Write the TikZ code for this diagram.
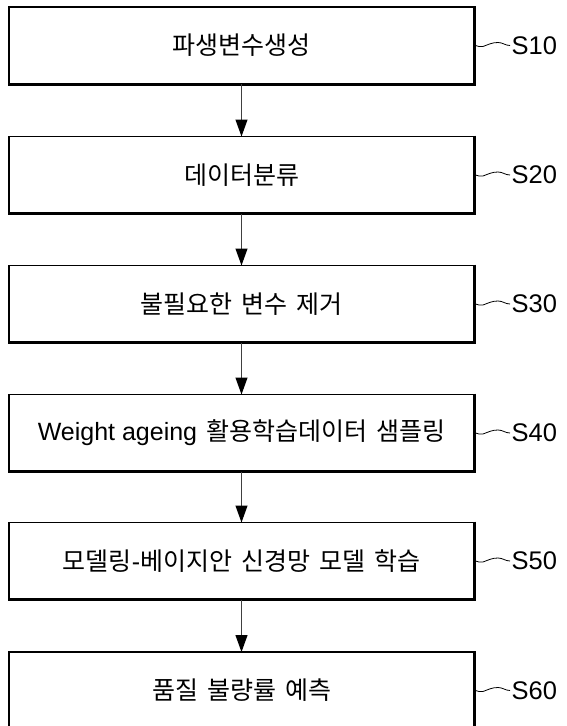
\documentclass[tikz,border=0pt]{standalone}
\usepackage{fontspec}
\setmainfont{Liberation Sans}
\newfontfamily\ko{Noto Sans CJK KR}
\newcommand{\ksp}{\hspace{9pt}}
\usetikzlibrary{arrows.meta,calc}
\begin{document}
\begin{tikzpicture}[x=1pt,y=-1pt,
  stepbox/.style={draw=black,line width=1.6pt,minimum width=465pt,minimum height=77pt,
    inner sep=0pt,outer sep=0pt,font=\fontsize{25}{29}\selectfont},
  flow/.style={draw=black!75,line width=1pt,-{Triangle[width=12pt,length=17pt,black]}},
  lbl/.style={anchor=west,inner sep=1.5pt,font=\fontsize{25.5}{29}\selectfont},
  tilde/.style={draw=black,line width=0.8pt}]
\useasboundingbox (0,0) rectangle (566,726);
\clip (0,0) rectangle (566,726);
\node[stepbox] (b1) at (241.5,45.5)  {\ko 파생변수생성};
\node[stepbox] (b2) at (241.5,175)   {\ko 데이터분류};
\node[stepbox] (b3) at (241.5,304)   {\ko 불필요한\ksp 변수\ksp 제거};
\node[stepbox] (b4) at (241.5,433)   {Weight ageing\ksp{\ko 활용학습데이터\ksp 샘플링}};
\node[stepbox] (b5) at (241.5,561)   {{\ko 모델링}-{\ko 베이지안\ksp 신경망\ksp 모델\ksp 학습}};
\node[stepbox] (b6) at (241.5,690.5) {\ko 품질\ksp 불량률\ksp 예측};
\foreach \i in {1,...,6}{
  \draw[line width=3pt] ($(b\i.north east)+(0,-0.8)$) -- (b\i.south east) -- ($(b\i.south west)+(-0.8,0)$);
}
\foreach \i/\s in {1/S10,2/S20,3/S30,4/S40,5/S50,6/S60}{
  \node[lbl] (l\i) at ($(b\i.east)+(36,0)$) {\s};
  \draw[tilde] ($(b\i.east)+(1.5,0)$) to[out=-10,in=200] ($(b\i.east)+(9,1)$)
     to[out=20,in=180] ($(b\i.east)+(24,-3)$) to[out=0,in=180] (l\i.west);
}
\draw[flow] (b1.south) -- (b2.north);
\draw[flow] (b2.south) -- (b3.north);
\draw[flow] (b3.south) -- (b4.north);
\draw[flow] (b4.south) -- (b5.north);
\draw[flow] (b5.south) -- (b6.north);
\end{tikzpicture}
\end{document}
